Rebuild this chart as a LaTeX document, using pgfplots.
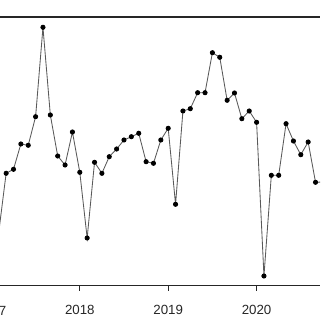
\documentclass[border=0pt]{standalone}
\usepackage{pgfplots}
\pgfplotsset{compat=1.18}
\usepackage{fontspec}
\setmainfont{Liberation Sans}
\begin{document}
\begin{tikzpicture}[trim left=0pt, trim right=320pt, font=\fontsize{13.3}{16}\selectfont]
\begin{axis}[
  name=ax, at={(0pt,0pt)}, anchor=south west,
  scale only axis, width=320pt, height=268.7pt,
  xmin=2017.0973, xmax=2020.7174, ymin=0, ymax=268.7,
  axis x line=bottom, axis y line=none,
  x axis line style={-, line width=1.1pt, black!85},
  xtick={2018,2019,2020}, xticklabels={2018,2019,2020},
  ytick=\empty,
  tick align=outside, major tick length=5pt,
  tick style={black!85, line width=0.8pt},
  xticklabel style={text=black!85, yshift=-10.6pt},
]
\addplot[color=black!65, line width=0.85pt, mark=*, mark size=2.1pt, mark options={black, fill=black}] coordinates {
(2017.0833,53.7) (2017.1667,112.4) (2017.25,116.4) (2017.3333,141.7) (2017.4167,140.4)
(2017.5,169.0) (2017.5833,258.4) (2017.6667,170.7) (2017.75,129.7) (2017.8333,120.7)
(2017.9167,153.7) (2018.0,113.4) (2018.0833,47.7) (2018.1667,123.4) (2018.25,112.4)
(2018.3333,129.0) (2018.4167,136.7) (2018.5,145.7) (2018.5833,149.0) (2018.6667,152.4)
(2018.75,124.0) (2018.8333,122.4) (2018.9167,145.7) (2019.0,157.4) (2019.0833,81.4)
(2019.1667,174.7) (2019.25,177.0) (2019.3333,193.0) (2019.4167,193.0) (2019.5,233.0)
(2019.5833,228.4) (2019.6667,185.4) (2019.75,192.7) (2019.8333,167.0) (2019.9167,174.7)
(2020.0,163.4) (2020.0833,9.7) (2020.1667,110.4) (2020.25,110.4) (2020.3333,162.0)
(2020.4167,144.7) (2020.5,131.0) (2020.5833,143.7) (2020.6667,103.4) (2020.75,103.7)
};
\end{axis}
\draw[line width=1.1pt, black!85] (ax.north west) -- (ax.north east);
\node[anchor=base, text=black!85] at ([xshift=-8.55pt]ax.south west |- ax.south west) [yshift=-29.5pt] {2017};
\path (ax.north west) ++(0,17pt) coordinate (t);
\path (t) -- (ax.south west);
\path (ax.south west) ++(0,-34.3pt) coordinate (b);
\path (b) -- (ax.south west);
\end{tikzpicture}
\end{document}
